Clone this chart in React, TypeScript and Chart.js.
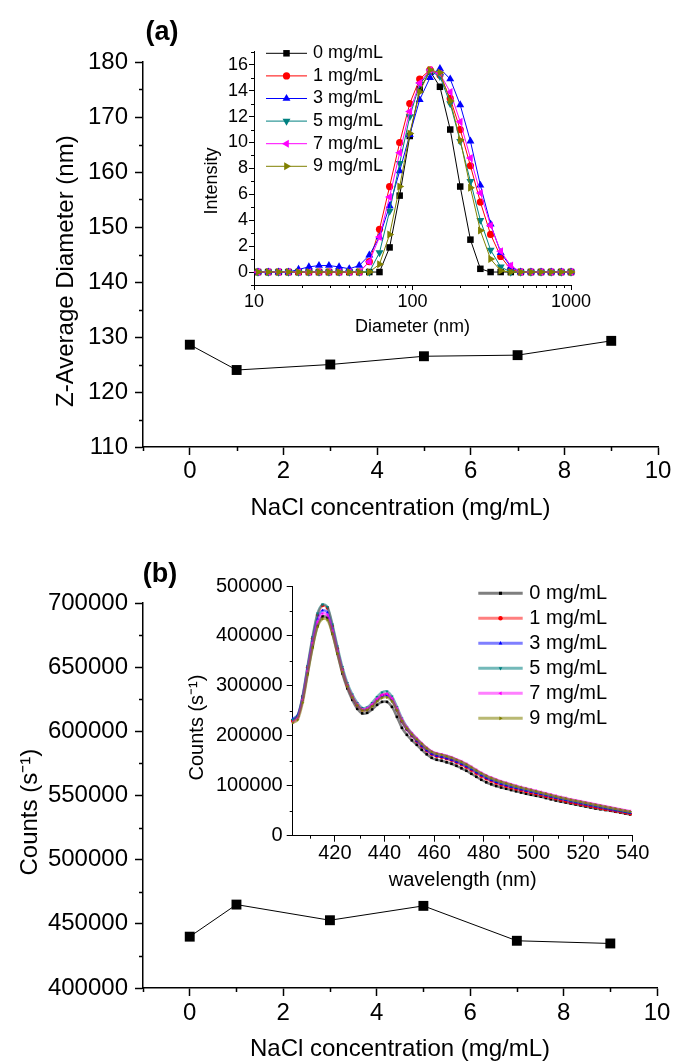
import React, { useEffect, useRef } from 'react';
import { Chart, registerables } from 'chart.js';
import { drawPoint } from 'chart.js/helpers';

Chart.register(...registerables);

const FONT = "'Liberation Sans', Arial, Helvetica, sans-serif";
const NB = '\u00A0';

// ---------- main panels ----------
const naclConc = [0, 1, 3, 5, 7, 9];
const zAverage = [128.6, 124.0, 125.0, 126.5, 126.7, 129.3];
const countsMain = [440000, 465000, 452800, 464000, 436800, 434700];
const naclMajorTicks = [0, 2, 4, 6, 8, 10];
const naclMinorTicks = [-1, 1, 3, 5, 7, 9];
const zMajorTicks = [110, 120, 130, 140, 150, 160, 170, 180];
const zMinorTicks = [115, 125, 135, 145, 155, 165, 175];
const countsMajorTicks = [400000, 450000, 500000, 550000, 600000, 650000, 700000];
const countsMinorTicks = [425000, 475000, 525000, 575000, 625000, 675000];

// ---------- series ----------
const seriesLabels = ['0 mg/mL', '1 mg/mL', '3 mg/mL', '5 mg/mL', '7 mg/mL', '9 mg/mL'];
const seriesColors = ['#000000', '#FF0000', '#0000FF', '#008080', '#FF00FF', '#808000'];
const seriesLight = ['rgba(0,0,0,0.5)', 'rgba(255,0,0,0.5)', 'rgba(0,0,255,0.5)', 'rgba(0,128,128,0.55)', 'rgba(255,0,255,0.5)', 'rgba(128,128,0,0.55)'];
const seriesStyles = ['rect', 'circle', 'triangle', 'triangle', 'triangle', 'triangle'];
const seriesRotations = [0, 0, 0, 180, 270, 90];

// ---------- inset (a): DLS size distribution ----------
const diameters = [10.6, 12.3, 14.3, 16.5, 19.1, 22.2, 25.7, 29.7, 34.4, 39.9, 46.1, 53.4, 61.9, 71.7, 83.0, 96.1,
  111, 129, 149, 173, 200, 232, 268, 311, 360, 417, 482, 559, 647, 749, 867, 1000];
const intensity0 = [0, 0, 0, 0, 0, 0, 0, 0, 0, 0, 0, 0, 0, 1.9, 5.9, 10.5, 14.1, 15.5, 14.3, 11.0, 6.6, 2.5, 0.25, 0, 0, 0, 0, 0, 0, 0, 0, 0];
const intensity1 = [0, 0, 0, 0, 0, 0, 0, 0, 0, 0, 0, 0.8, 3.3, 6.6, 10.0, 13.0, 14.9, 15.6, 15.2, 13.4, 11.0, 8.2, 5.4, 2.9, 1.2, 0.2, 0, 0, 0, 0, 0, 0];
const intensity3 = [0, 0, 0, 0, 0.2, 0.4, 0.5, 0.5, 0.4, 0.25, 0.5, 1.3, 2.7, 5.1, 7.8, 10.6, 13.3, 15.0, 15.7, 14.9, 12.9, 10.1, 6.7, 3.7, 1.5, 0.4, 0, 0, 0, 0, 0, 0];
const intensity5 = [0, 0, 0, 0, 0, 0, 0, 0, 0, 0, 0, 0, 1.5, 4.7, 8.4, 12.0, 14.5, 15.5, 15.1, 13.0, 10.1, 7.0, 4.0, 1.7, 0.4, 0, 0, 0, 0, 0, 0, 0];
const intensity7 = [0, 0, 0, 0, 0, 0, 0, 0, 0, 0, 0, 0.8, 2.7, 5.8, 9.2, 12.4, 14.6, 15.6, 15.3, 13.9, 11.6, 8.8, 6.1, 3.6, 1.6, 0.5, 0, 0, 0, 0, 0, 0];
const intensity9 = [0, 0, 0, 0, 0, 0, 0, 0, 0, 0, 0, 0, 0.6, 2.9, 6.6, 10.7, 13.9, 15.6, 15.4, 13.2, 10.2, 6.5, 3.2, 1.0, 0.1, 0, 0, 0, 0, 0, 0, 0];
const diamMajorTicks = [10, 100, 1000];
const diamMinorTicks = [20, 30, 40, 50, 60, 70, 80, 90, 200, 300, 400, 500, 600, 700, 800, 900];
const intMajorTicks = [0, 2, 4, 6, 8, 10, 12, 14, 16];
const intMinorTicks = [-1, 1, 3, 5, 7, 9, 11, 13, 15, 17];

// ---------- inset (b): fluorescence spectra ----------
const wavelengths = [403, 405, 407, 409, 411, 413, 415, 417, 419, 421,
  423, 425, 427, 429, 431, 433, 435, 437, 439, 441,
  443, 445, 447, 449, 451, 453, 455, 457, 459, 461,
  463, 465, 467, 469, 471, 473, 475, 477, 479, 481,
  483, 485, 487, 489, 491, 493, 495, 497, 499, 501,
  503, 505, 507, 509, 511, 513, 515, 517, 519, 521,
  523, 525, 527, 529, 531, 533, 535, 537, 539];
const spectrum0 = [231000, 238000, 272000, 325000, 378000, 420000, 439000, 436000, 405000, 365000,
  325000, 295000, 272000, 254000, 245000, 246000, 253000, 262000, 268000, 268000,
  258000, 238000, 216000, 202000, 191000, 182000, 172000, 163000, 156000, 152000,
  150000, 147000, 144000, 140000, 135000, 130000, 124000, 118000, 112000, 107000,
  103000, 99500, 96500, 94000, 91500, 89000, 86500, 84000, 82000, 80000,
  78000, 75500, 73000, 70500, 68500, 66500, 64500, 62500, 60500, 58500,
  56500, 54500, 53000, 51500, 50000, 48000, 46500, 44500, 42500];
const spectrum1 = [230000, 239000, 278000, 337000, 395000, 442000, 461000, 456000, 420000, 375000,
  333000, 301000, 278000, 261000, 252000, 253000, 261000, 272000, 281000, 283000,
  273000, 252000, 229000, 213000, 200000, 189000, 179000, 170000, 163000, 159000,
  157000, 154000, 151000, 147000, 142000, 137000, 131000, 125000, 119000, 114000,
  109500, 105500, 102000, 99000, 96000, 93500, 91000, 88500, 86000, 84000,
  81500, 79000, 76500, 74000, 71500, 69500, 67000, 65000, 63000, 61000,
  59000, 57000, 55000, 53000, 51500, 49500, 48000, 46000, 44000];
const spectrum3 = [234000, 241000, 277000, 334000, 390000, 434000, 451000, 447000, 414000, 371000,
  331000, 300000, 277000, 261000, 252000, 253000, 261000, 271000, 279000, 281000,
  271000, 251000, 229000, 213000, 201000, 190000, 180000, 171000, 164000, 160000,
  158000, 155000, 152000, 148000, 144000, 139000, 133000, 127000, 121000, 116000,
  111500, 107500, 104000, 101000, 98000, 95500, 93000, 90500, 88000, 86000,
  83500, 81000, 78500, 76000, 73500, 71500, 69000, 67000, 65000, 63000,
  61000, 59000, 57000, 55000, 53000, 51000, 49500, 47500, 45500];
const spectrum5 = [232000, 240000, 280000, 340000, 398000, 445000, 463000, 458000, 423000, 379000,
  338000, 306000, 283000, 266000, 256000, 257000, 266000, 278000, 287000, 289000,
  279000, 258000, 235000, 218000, 205000, 194000, 184000, 175000, 168000, 164000,
  162000, 159000, 156000, 152000, 147000, 142000, 136000, 130000, 124000, 119000,
  114500, 110500, 107000, 104000, 101000, 98000, 95500, 93000, 90500, 88000,
  85500, 83000, 80500, 78000, 75500, 73500, 71000, 69000, 67000, 65000,
  63000, 61000, 59000, 57000, 55000, 53000, 51000, 49000, 47000];
const spectrum7 = [227000, 235000, 272000, 330000, 386000, 428000, 445000, 442000, 411000, 370000,
  331000, 301000, 279000, 263000, 253000, 255000, 263000, 274000, 282000, 284000,
  275000, 255000, 233000, 217000, 205000, 195000, 185000, 176000, 169000, 165000,
  163000, 160000, 157000, 153000, 149000, 144000, 138000, 132000, 126000, 121000,
  116500, 112500, 109000, 106000, 103000, 100000, 97500, 95000, 92500, 90000,
  87500, 85000, 82500, 80000, 77500, 75500, 73000, 71000, 69000, 67000,
  65000, 63000, 61000, 59000, 57000, 55000, 53000, 51000, 49500];
const spectrum9 = [226000, 232000, 266000, 322000, 376000, 418000, 434000, 432000, 404000, 365000,
  328000, 299000, 277000, 261000, 251000, 252000, 259000, 269000, 276000, 277000,
  269000, 251000, 230000, 215000, 203000, 193000, 184000, 175000, 168000, 164000,
  162000, 159000, 156000, 152000, 148000, 143000, 137000, 131000, 125000, 120000,
  115500, 111500, 108000, 105000, 102000, 99000, 96500, 94000, 91500, 89000,
  86500, 84000, 81500, 79000, 76500, 74500, 72000, 70000, 68000, 66000,
  64000, 62000, 60000, 58000, 56000, 54000, 52000, 50000, 48500];
const wlMajorTicks = [420, 440, 460, 480, 500, 520, 540];
const wlMinorTicks = [410, 430, 450, 470, 490, 510, 530];
const specMajorTicks = [0, 100000, 200000, 300000, 400000, 500000];
const specMinorTicks = [50000, 150000, 250000, 350000, 450000];

const intensitySeries = [intensity0, intensity1, intensity3, intensity5, intensity7, intensity9];
const spectrumSeries = [spectrum0, spectrum1, spectrum3, spectrum5, spectrum7, spectrum9];

// ---------- plugins ----------
const minorTickPlugin = {
  id: 'minorTicks',
  afterDraw(chart: any, _args: any, opts: any) {
    const ctx = chart.ctx;
    const cfgs = (opts && opts.scales) || {};
    Object.keys(cfgs).forEach((id) => {
      const cfg = cfgs[id];
      const scale = chart.scales[id];
      if (!scale) return;
      ctx.save();
      ctx.strokeStyle = '#000';
      ctx.lineWidth = cfg.width;
      ctx.beginPath();
      cfg.values.forEach((v: number) => {
        if (v < scale.min - 1e-9 || v > scale.max + 1e-9) return;
        const p = Math.round(scale.getPixelForValue(v)) + 0.5;
        if (scale.isHorizontal()) {
          const y0 = scale.top;
          ctx.moveTo(p, y0);
          ctx.lineTo(p, y0 + cfg.length);
        } else {
          const x0 = scale.right;
          ctx.moveTo(x0, p);
          ctx.lineTo(x0 - cfg.length, p);
        }
      });
      ctx.stroke();
      ctx.restore();
    });
  },
};

const insetLegendPlugin = {
  id: 'insetLegend',
  afterDraw(chart: any, _args: any, o: any) {
    if (!o || !o.show) return;
    const ctx = chart.ctx;
    chart.data.datasets.forEach((ds: any, i: number) => {
      const y = o.y0 + i * o.dy;
      ctx.save();
      ctx.strokeStyle = ds.borderColor;
      ctx.lineWidth = o.lineWidth;
      ctx.beginPath();
      ctx.moveTo(o.x0, y);
      ctx.lineTo(o.x1, y);
      ctx.stroke();
      ctx.fillStyle = ds.pointBackgroundColor;
      ctx.strokeStyle = ds.pointBorderColor;
      drawPoint(ctx, { pointStyle: ds.pointStyle, rotation: ds.pointRotation || 0, radius: o.pointRadius || ds.pointRadius, borderWidth: 0 } as any, (o.x0 + o.x1) / 2, y);
      ctx.fillStyle = '#000';
      ctx.font = `${o.fontSize}px ${FONT}`;
      ctx.textBaseline = 'middle';
      ctx.textAlign = 'left';
      ctx.fillText(ds.label, o.xt, y);
      ctx.restore();
    });
  },
};

// ---------- axis helpers ----------
function xAxis(o: any) {
  return {
    type: o.type || 'linear',
    position: 'bottom',
    min: o.min,
    max: o.max,
    afterBuildTicks: (s: any) => { s.ticks = o.major.map((v: number) => ({ value: v })); },
    afterFit: (s: any) => { s.height = o.height; },
    grid: { display: true, drawOnChartArea: false, drawTicks: true, tickLength: o.tickLength, color: '#000', tickColor: '#000', tickWidth: o.lineWidth },
    border: { display: true, color: '#000', width: o.lineWidth },
    ticks: { color: '#000', font: { family: FONT, size: o.fontSize }, padding: o.padding, autoSkip: false, maxRotation: 0, minRotation: 0, callback: (v: any) => String(v) },
    title: { display: true, text: o.title, color: '#000', font: { family: FONT, size: o.fontSize }, padding: { top: 0, bottom: o.titlePad } },
  };
}

function yAxis(o: any) {
  return {
    type: 'linear',
    position: 'left',
    min: o.min,
    max: o.max,
    afterBuildTicks: (s: any) => { s.ticks = o.major.map((v: number) => ({ value: v })); },
    afterFit: (s: any) => { s.width = o.width; },
    grid: { display: true, drawOnChartArea: false, drawTicks: true, tickLength: o.tickLength, color: '#000', tickColor: '#000', tickWidth: o.lineWidth },
    border: { display: true, color: '#000', width: o.lineWidth },
    ticks: { color: '#000', font: { family: FONT, size: o.fontSize }, padding: o.padding, autoSkip: false, callback: (v: any) => String(v) },
    title: { display: true, text: o.title, color: '#000', font: { family: FONT, size: o.fontSize }, padding: { top: o.titlePad, bottom: 0 } },
  };
}

function baseOptions(padding: any, extraPlugins: any) {
  return {
    animation: false,
    responsive: false,
    devicePixelRatio: 1,
    layout: { padding },
    plugins: { legend: { display: false }, tooltip: { enabled: false }, ...extraPlugins },
  };
}

function mainDataset(values: number[]) {
  return {
    label: 'main',
    data: naclConc.map((x, i) => ({ x, y: values[i] })),
    borderColor: '#000',
    borderWidth: 1,
    pointStyle: 'rect',
    pointRadius: 7,
    pointBackgroundColor: '#000',
    pointBorderColor: '#000',
    pointBorderWidth: 0,
    tension: 0,
    clip: false,
  };
}

const mainAConfig: any = {
  type: 'line',
  data: { datasets: [mainDataset(zAverage)] },
  options: {
    ...baseOptions({ left: 0, right: 14, top: 62, bottom: 0 }, {
      minorTicks: { scales: { x: { values: naclMinorTicks, length: 4, width: 1.5 }, y: { values: zMinorTicks, length: 4, width: 1.5 } } },
    }),
    scales: {
      x: xAxis({ min: -1, max: 10, major: naclMajorTicks, height: 83, tickLength: 8, padding: 1.6, fontSize: 24, lineWidth: 1.5, title: 'NaCl concentration (mg/mL)', titlePad: 7.6 }),
      y: yAxis({ min: 110, max: 180, major: zMajorTicks, width: 143, tickLength: 8, padding: 7, fontSize: 24, lineWidth: 1.5, title: 'Z-Average Diameter (nm)' + NB.repeat(5), titlePad: 51.6 }),
    },
  },
  plugins: [minorTickPlugin],
};

const mainBConfig: any = {
  type: 'line',
  data: { datasets: [mainDataset(countsMain)] },
  options: {
    ...baseOptions({ left: 0, right: 14, top: 73, bottom: 0 }, {
      minorTicks: { scales: { x: { values: naclMinorTicks, length: 4, width: 1.5 }, y: { values: countsMinorTicks, length: 4, width: 1.5 } } },
    }),
    scales: {
      x: xAxis({ min: -1, max: 10, major: naclMajorTicks, height: 76, tickLength: 8, padding: 2.6, fontSize: 24, lineWidth: 1.5, title: 'NaCl concentration (mg/mL)', titlePad: 0.6 }),
      y: yAxis({ min: 400000, max: 700000, major: countsMajorTicks, width: 143, tickLength: 8, padding: 7, fontSize: 24, lineWidth: 1.5, title: 'Counts (s\u207B\u00B9)' + NB.repeat(5), titlePad: 15.6 }),
    },
  },
  plugins: [minorTickPlugin],
};

const insetARadii = [4.6, 3.6, 4.6, 4.6, 4.6, 4.6];

const insetAConfig: any = {
  type: 'line',
  data: {
    datasets: intensitySeries.map((vals, i) => ({
      label: seriesLabels[i],
      data: diameters.map((x, k) => ({ x, y: vals[k] })),
      borderColor: seriesColors[i],
      borderWidth: 1,
      pointStyle: seriesStyles[i],
      pointRotation: seriesRotations[i],
      pointRadius: insetARadii[i],
      pointBackgroundColor: seriesColors[i],
      pointBorderColor: seriesColors[i],
      pointBorderWidth: 0,
      tension: 0,
      clip: false,
      order: 5 - i,
    })),
  },
  options: {
    ...baseOptions({ left: 0, right: 29, top: 10.5, bottom: 0 }, {
      minorTicks: { scales: { x: { values: diamMinorTicks, length: 3, width: 1 }, y: { values: intMinorTicks, length: 3, width: 1 } } },
      insetLegend: { show: true, x0: 96, x1: 137, xt: 143, y0: 13.3, dy: 22.6, fontSize: 18, lineWidth: 1 },
    }),
    scales: {
      x: xAxis({ type: 'logarithmic', min: 10, max: 1000, major: diamMajorTicks, height: 55, tickLength: 5, padding: 1.2, fontSize: 18, lineWidth: 1, title: 'Diameter (nm)', titlePad: 2.2 }),
      y: yAxis({ min: -1, max: 17, major: intMajorTicks, width: 84, tickLength: 5, padding: 1, fontSize: 18, lineWidth: 1, title: 'Intensity' + NB.repeat(5), titlePad: 31.2 }),
    },
  },
  plugins: [minorTickPlugin, insetLegendPlugin],
};

const insetBConfig: any = {
  type: 'line',
  data: {
    datasets: spectrumSeries.map((vals, i) => ({
      label: seriesLabels[i],
      data: wavelengths.map((x, k) => ({ x, y: vals[k] })),
      borderColor: seriesLight[i],
      borderWidth: 2.5,
      pointStyle: seriesStyles[i],
      pointRotation: seriesRotations[i],
      pointRadius: 1.8,
      pointBackgroundColor: seriesColors[i],
      pointBorderColor: seriesColors[i],
      pointBorderWidth: 0,
      tension: 0.3,
      clip: false,
      order: 5 - i,
    })),
  },
  options: {
    ...baseOptions({ left: 0, right: 27.3, top: 13.3, bottom: 0 }, {
      minorTicks: { scales: { x: { values: wlMinorTicks, length: 3, width: 1 }, y: { values: specMinorTicks, length: 3, width: 1 } } },
      insetLegend: { show: true, x0: 308.3, x1: 352.7, xt: 359.3, y0: 23.3, dy: 25, fontSize: 20, lineWidth: 3, pointRadius: 2.2 },
    }),
    scales: {
      x: xAxis({ min: 403, max: 540, major: wlMajorTicks, height: 64.3, tickLength: 6, padding: 0, fontSize: 20, lineWidth: 1, title: 'wavelength (nm)', titlePad: 8 }),
      y: yAxis({ min: 0, max: 500000, major: specMajorTicks, width: 122.7, tickLength: 6, padding: 4, fontSize: 20, lineWidth: 1, title: 'Counts (s\u207B\u00B9)' + NB.repeat(6), titlePad: 15 }),
    },
  },
  plugins: [minorTickPlugin, insetLegendPlugin],
};

function ChartCanvas(props: { config: any; left: number; top: number; width: number; height: number }) {
  const ref = useRef<HTMLCanvasElement>(null);
  useEffect(() => {
    const chart = new Chart(ref.current as HTMLCanvasElement, props.config);
    return () => chart.destroy();
  }, []);
  return (
    <canvas
      ref={ref}
      width={props.width}
      height={props.height}
      style={{ position: 'absolute', left: props.left, top: props.top, width: props.width, height: props.height }}
    />
  );
}

const panelLabelStyle: any = {
  position: 'absolute',
  width: 60,
  textAlign: 'center',
  fontFamily: FONT,
  fontWeight: 'bold',
  fontSize: 27,
  lineHeight: '30px',
  color: '#000',
};

export default function App() {
  return (
    <div style={{ position: 'absolute', left: 0, top: 0, width: 673, height: 1064, background: '#fff', overflow: 'hidden' }}>
      <ChartCanvas config={mainAConfig} left={0} top={0} width={673} height={530} />
      <ChartCanvas config={insetAConfig} left={170} top={40} width={430} height={300} />
      <ChartCanvas config={mainBConfig} left={0} top={530} width={673} height={534} />
      <ChartCanvas config={insetBConfig} left={170} top={570} width={490} height={330} />
      <div style={{ ...panelLabelStyle, left: 132, top: 16 }}>(a)</div>
      <div style={{ ...panelLabelStyle, left: 130, top: 558 }}>(b)</div>
    </div>
  );
}
